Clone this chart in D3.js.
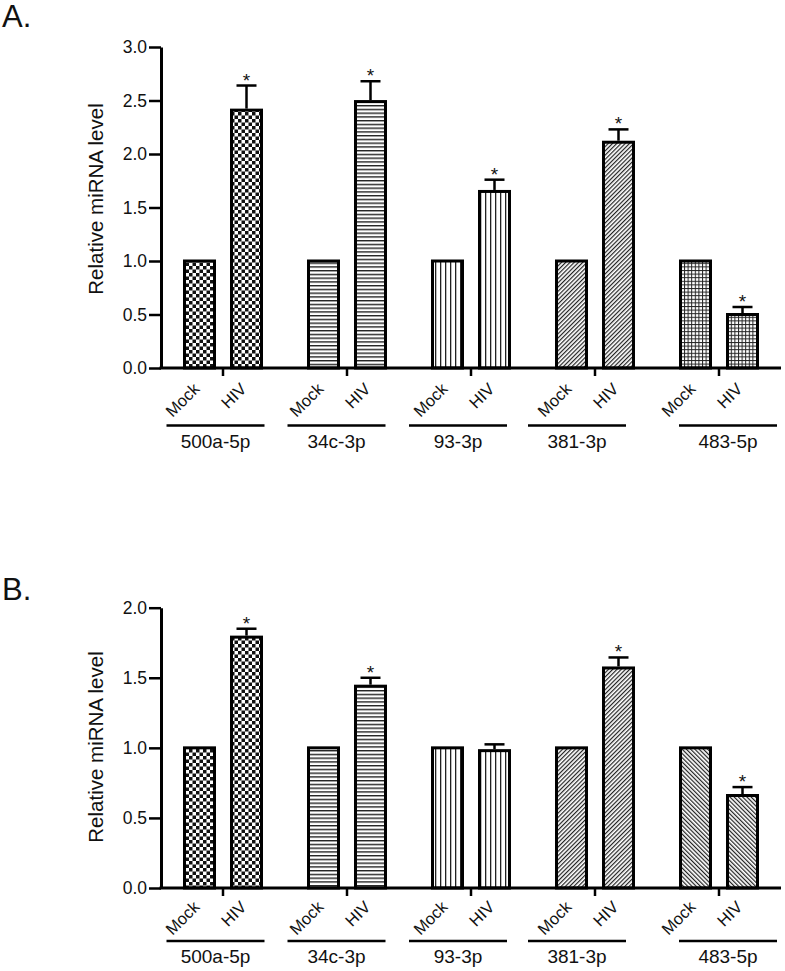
<!DOCTYPE html>
<html>
<head>
<meta charset="utf-8">
<script src="https://cdn.jsdelivr.net/npm/d3@7"></script>
<style>
  html, body { margin: 0; padding: 0; background: #fff; }
  svg { display: block; font-family: "Liberation Sans", Arial, Helvetica, sans-serif; }
</style>
</head>
<body>
<svg id="chart" width="785" height="971"></svg>
<script>
// ---------------- DATA ----------------
const groups = ["500a-5p", "34c-3p", "93-3p", "381-3p", "483-5p"];
const conditions = ["Mock", "HIV"];
const yTicksA = [0, 0.5, 1.0, 1.5, 2.0, 2.5, 3.0];
const yTicksB = [0, 0.5, 1.0, 1.5, 2.0];

const mockA = [1, 1, 1, 1, 1];
const hivA = [2.41, 2.49, 1.65, 2.11, 0.50];
const hivErrA = [0.23, 0.19, 0.11, 0.12, 0.07];
const sigA = [true, true, true, true, true];

const mockB = [1, 1, 1, 1, 1];
const hivB = [1.79, 1.44, 0.98, 1.57, 0.66];
const hivErrB = [0.06, 0.06, 0.045, 0.075, 0.06];
const sigB = [true, true, false, true, true];

const patternsA = ["checker", "hlines", "vlines", "diagUp", "grid"];
const patternsB = ["checker", "hlines", "vlines", "diagUp", "diagDown"];

// ---------------- LAYOUT ----------------
const svg = d3.select("#chart");
const xLeft = 161, xRight = 781;
const underlineShift = [-7.5, -10.5, -13, -18, 9];
const FONT = "'Liberation Sans', Arial, Helvetica, sans-serif";

// ---------------- PATTERNS ----------------
const defs = svg.append("defs");
function pat(id, w, h, transform) {
  const p = defs.append("pattern").attr("id", id)
    .attr("patternUnits", "userSpaceOnUse").attr("width", w).attr("height", h);
  if (transform) p.attr("patternTransform", transform);
  p.append("rect").attr("width", w).attr("height", h).attr("fill", "#fff");
  return p;
}
{
  const s = 3.5;
  const p = pat("checker", 2 * s, 2 * s);
  p.append("rect").attr("x", 0).attr("y", 0).attr("width", s).attr("height", s).attr("fill", "#111");
  p.append("rect").attr("x", s).attr("y", s).attr("width", s).attr("height", s).attr("fill", "#111");
}
{
  const p = pat("hlines", 8, 3.75);
  p.append("rect").attr("x", 0).attr("y", 0).attr("width", 8).attr("height", 1.4).attr("fill", "#222");
}
{
  const p = pat("vlines", 5, 8);
  p.append("rect").attr("x", 0).attr("y", 0).attr("width", 1.3).attr("height", 8).attr("fill", "#222");
}
{
  const p = pat("diagUp", 3, 8, "rotate(45)");
  p.append("rect").attr("x", 0).attr("y", 0).attr("width", 1.2).attr("height", 8).attr("fill", "#222");
}
{
  const p = pat("diagDown", 3, 8, "rotate(-45)");
  p.append("rect").attr("x", 0).attr("y", 0).attr("width", 1.2).attr("height", 8).attr("fill", "#222");
}
{
  const p = pat("grid", 3.6, 3.6);
  p.append("rect").attr("x", 0).attr("y", 0).attr("width", 3.6).attr("height", 1).attr("fill", "#222");
  p.append("rect").attr("x", 0).attr("y", 0).attr("width", 1).attr("height", 3.6).attr("fill", "#222");
}

// ---------------- PANEL ----------------
function panel(cfg) {
  const g = svg.append("g");
  const x = d3.scaleBand().domain(groups).range([xLeft, xRight]).padding(0);
  const sub = d3.scalePoint().domain(conditions).range([-23.5, 23.5]);
  const y = d3.scaleLinear().domain([0, cfg.yMax]).range([cfg.y0, cfg.yTop]);
  const barW = 30;

  // panel letter
  g.append("text").attr("x", 2).attr("y", cfg.letterY)
    .attr("font-size", 31).attr("fill", "#111").text(cfg.letter);

  // y label
  g.append("text")
    .attr("transform", `translate(${103},${cfg.yLabelY}) rotate(-90)`)
    .attr("text-anchor", "middle").attr("font-size", 20.5).attr("fill", "#111")
    .text("Relative miRNA level");

  const rows = [];
  groups.forEach((grp, i) => {
    rows.push({ grp, i, cond: "Mock", v: cfg.mock[i], err: 0, sig: false, pat: cfg.pats[i] });
    rows.push({ grp, i, cond: "HIV", v: cfg.hiv[i], err: cfg.err[i], sig: cfg.sig[i], pat: cfg.pats[i] });
  });
  const cx = d => x(d.grp) + x.bandwidth() / 2 + sub(d.cond);

  // bars
  g.selectAll("rect.bar").data(rows).join("rect").attr("class", "bar")
    .attr("x", d => cx(d) - barW / 2)
    .attr("width", barW)
    .attr("y", d => y(d.v))
    .attr("height", d => y(0) - y(d.v))
    .attr("fill", d => `url(#${d.pat})`)
    .attr("stroke", "#000").attr("stroke-width", 3);

  // error bars
  const eb = rows.filter(d => d.err > 0);
  g.selectAll("line.err").data(eb).join("line").attr("class", "err")
    .attr("x1", cx).attr("x2", cx)
    .attr("y1", d => y(d.v) - 1.5).attr("y2", d => y(d.v + d.err))
    .attr("stroke", "#000").attr("stroke-width", 2.5);
  g.selectAll("line.cap").data(eb).join("line").attr("class", "cap")
    .attr("x1", d => cx(d) - 10).attr("x2", d => cx(d) + 10)
    .attr("y1", d => y(d.v + d.err)).attr("y2", d => y(d.v + d.err))
    .attr("stroke", "#000").attr("stroke-width", 2.5);

  // asterisks
  g.selectAll("text.sig").data(rows.filter(d => d.sig)).join("text").attr("class", "sig")
    .attr("x", cx).attr("y", d => y(d.v + d.err) + 1)
    .attr("text-anchor", "middle").attr("font-size", 19).attr("fill", "#111").text("*");

  // y axis
  const ya = g.append("g").attr("transform", `translate(${xLeft},0)`)
    .call(d3.axisLeft(y).tickValues(cfg.yTicks).tickFormat(d3.format(".1f")).tickSize(12).tickSizeOuter(0).tickPadding(2));
  ya.attr("font-family", FONT).attr("font-size", 17.5);
  ya.select(".domain").attr("stroke", "#000").attr("stroke-width", 3);
  ya.selectAll(".tick line").attr("stroke", "#000").attr("stroke-width", 2.5);
  ya.selectAll(".tick text").attr("fill", "#111");

  // x axis
  const xa = g.append("g").attr("transform", `translate(0,${cfg.y0})`)
    .call(d3.axisBottom(x).tickSize(8).tickSizeOuter(0).tickFormat(""));
  xa.select(".domain").attr("stroke", "#000").attr("stroke-width", 3)
    .attr("d", `M${xLeft - 1.5},0H${xRight}`);
  xa.selectAll(".tick line").attr("stroke", "#000").attr("stroke-width", 2.5);

  // condition labels
  g.selectAll("text.cond").data(rows).join("text").attr("class", "cond")
    .attr("transform", d => `translate(${cx(d) + 1},${cfg.y0 + cfg.condDy}) rotate(-45)`)
    .attr("text-anchor", "end").attr("font-size", 16.5).attr("fill", "#111")
    .text(d => d.cond);

  // group underline + label
  groups.forEach((grp, i) => {
    const c = x(grp) + x.bandwidth() / 2 + underlineShift[i];
    g.append("line")
      .attr("x1", c - 49).attr("x2", c + 49)
      .attr("y1", cfg.y0 + cfg.lineDy).attr("y2", cfg.y0 + cfg.lineDy)
      .attr("stroke", "#000").attr("stroke-width", 2.5);
    g.append("text").attr("x", c).attr("y", cfg.y0 + cfg.lineDy + 22)
      .attr("text-anchor", "middle").attr("font-size", 19).attr("fill", "#111").text(grp);
  });
}

panel({ letter: "A.", letterY: 27, yMax: 3, y0: 368, yTop: 47, yTicks: yTicksA,
  mock: mockA, hiv: hivA, err: hivErrA, sig: sigA, pats: patternsA,
  yLabelY: 199, condDy: 22, lineDy: 57.5 });
panel({ letter: "B.", letterY: 600, yMax: 2, y0: 888, yTop: 607.7, yTicks: yTicksB,
  mock: mockB, hiv: hivB, err: hivErrB, sig: sigB, pats: patternsB,
  yLabelY: 747, condDy: 20, lineDy: 53 });
</script>
</body>
</html>
